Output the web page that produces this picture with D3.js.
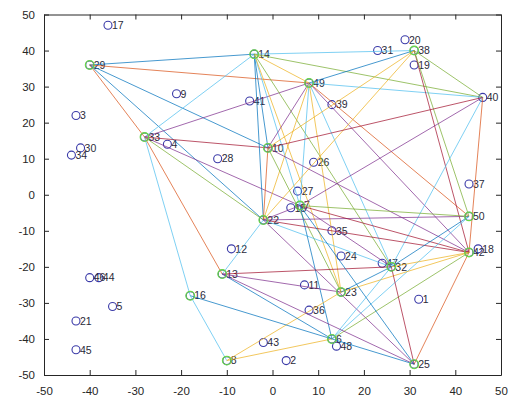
<!DOCTYPE html>
<html>
<head>
<meta charset="utf-8">
<script src="https://cdn.jsdelivr.net/npm/d3@7"></script>
<style>
  html, body { margin: 0; padding: 0; background: #fff; }
  svg { display: block; }
  text { font-family: "Liberation Sans", Arial, Helvetica, sans-serif; }
</style>
</head>
<body>
<svg id="chart" width="514" height="400"></svg>
<script>
// Sensor nodes: id, x, y, and whether the node is a cluster head (green ring)
const nodeIds = [1, 2, 3, 4, 5, 6, 7, 8, 9, 10,
                 11, 12, 13, 14, 15, 16, 17, 18, 19, 20,
                 21, 22, 23, 24, 25, 26, 27, 28, 29, 30,
                 31, 32, 33, 34, 35, 36, 37, 38, 39, 40,
                 41, 42, 43, 44, 45, 46, 47, 48, 49, 50];
const nodeX = [32, 3, -43, -23, -35, 13, 6, -10, -21, -1,
               7, -9, -11, -4, 4, -18, -36, 45, 31, 29,
               -43, -2, 15, 15, 31, 9, 5.5, -12, -40, -42,
               23, 26, -28, -44, 13, 8, 43, 31, 13, 46,
               -5, 43, -2, -38, -43, -40, 24, 14, 8, 43];
const nodeY = [-29, -46, 22, 14, -31, -40, -3, -46, 28, 13,
               -25, -15, -22, 39, -3.6, -28, 47, -15, 36, 43,
               -35, -7, -27, -17, -47, 9, 1, 10, 36, 13,
               40, -20, 16, 11, -10, -32, 3, 40, 25, 27,
               26, -16, -41, -23, -43, -23, -19, -42, 31, -6];
const headIds = [6, 7, 8, 10, 13, 14, 16, 22, 23, 25, 29, 32, 33, 38, 42, 49, 50];

// Links between nodes, and the line colour order entry each one was drawn with
const linkFrom  = [29, 29, 29, 29, 29, 33, 33, 33, 33, 33, 33, 33,
                   14, 14, 14, 14, 14, 14, 14, 14,
                   49, 49, 49, 49, 49, 49, 49, 49, 49,
                   38, 38, 38, 38, 38,
                   40, 40, 40, 40,
                   10, 10, 10,
                   22, 22, 22, 22, 22, 22,
                   7, 7, 7, 7,
                   50, 50, 42, 42, 42, 42,
                   32, 32, 32, 32,
                   23, 23, 6, 6, 6, 6, 13, 16, 25];
const linkTo    = [14, 49, 10, 22, 33, 14, 49, 10, 7, 22, 13, 16,
                   38, 40, 49, 22, 10, 7, 23, 32,
                   38, 40, 10, 22, 7, 23, 32, 42, 50,
                   40, 10, 22, 42, 50,
                   10, 7, 32, 42,
                   42, 22, 23,
                   50, 42, 32, 25, 13, 7,
                   50, 42, 32, 6,
                   32, 6, 32, 23, 25, 6,
                   13, 23, 25, 6,
                   13, 8, 16, 13, 8, 25, 25, 8, 7];
const linkGroup = [1, 2, 1, 1, 2, 6, 4, 7, 4, 5, 2, 6,
                   6, 5, 3, 1, 1, 6, 3, 5,
                   1, 6, 4, 3, 6, 3, 6, 4, 2,
                   5, 3, 3, 7, 5,
                   7, 4, 6, 2,
                   4, 2, 5,
                   4, 7, 6, 4, 6, 4,
                   5, 7, 4, 1,
                   1, 6, 3, 3, 2, 5,
                   7, 1, 7, 6,
                   4, 3, 1, 1, 3, 1, 4, 6, 1];

// Axis ticks
const xTicks = [-50, -40, -30, -20, -10, 0, 10, 20, 30, 40, 50];
const yTicks = [-50, -40, -30, -20, -10, 0, 10, 20, 30, 40, 50];

const lineColors = ["#0072BD", "#D95319", "#EDB120", "#7E2F8E", "#77AC30", "#4DBEEE", "#A2142F"];

(function draw() {
  const svg = d3.select("#chart");
  const pLeft = 44, pRight = 501, pTop = 14.5, pBottom = 375;

  const x = d3.scaleLinear().domain([-50, 50]).range([pLeft, pRight]);
  const y = d3.scaleLinear().domain([-50, 50]).range([pBottom, pTop]);
  const color = d3.scaleOrdinal().domain([1, 2, 3, 4, 5, 6, 7]).range(lineColors);

  const nodes = nodeIds.map((id, i) => ({ id, x: nodeX[i], y: nodeY[i] }));
  const byId = new Map(nodes.map(n => [n.id, n]));
  const links = linkFrom.map((f, i) => ({ a: byId.get(f), b: byId.get(linkTo[i]), g: linkGroup[i] }));

  // Node markers
  svg.append("g").selectAll("circle")
    .data(nodes)
    .join("circle")
    .attr("cx", d => x(d.x))
    .attr("cy", d => y(d.y))
    .attr("r", 4)
    .attr("fill", "none")
    .attr("stroke", "#3a3aa8")
    .attr("stroke-width", 1.1);

  // Node labels
  svg.append("g").selectAll("text")
    .data(nodes)
    .join("text")
    .attr("x", d => x(d.x) + 4)
    .attr("y", d => y(d.y))
    .attr("dy", "0.36em")
    .attr("font-size", 10.5)
    .attr("fill", "#2a2a3a")
    .text(d => d.id);

  // Links
  svg.append("g").selectAll("line")
    .data(links)
    .join("line")
    .attr("x1", d => x(d.a.x))
    .attr("y1", d => y(d.a.y))
    .attr("x2", d => x(d.b.x))
    .attr("y2", d => y(d.b.y))
    .attr("stroke", d => color(d.g))
    .attr("stroke-width", 1)
    .attr("stroke-opacity", 0.72);

  // Cluster head rings
  svg.append("g").selectAll("circle")
    .data(headIds.map(id => byId.get(id)))
    .join("circle")
    .attr("cx", d => x(d.x))
    .attr("cy", d => y(d.y))
    .attr("r", 4.3)
    .attr("fill", "none")
    .attr("stroke", "#6ad84a")
    .attr("stroke-width", 1.3);

  // Axes box with inward ticks on all four sides
  const fmt = d => String(d);
  const axisColor = "#262626";

  const gB = svg.append("g").attr("transform", `translate(0,${pBottom})`)
    .call(d3.axisBottom(x).tickValues(xTicks).tickFormat(fmt).tickSizeInner(-5).tickSizeOuter(0).tickPadding(12));
  const gL = svg.append("g").attr("transform", `translate(${pLeft},0)`)
    .call(d3.axisLeft(y).tickValues(yTicks).tickFormat(fmt).tickSizeInner(-5).tickSizeOuter(0).tickPadding(9));
  const gT = svg.append("g").attr("transform", `translate(0,${pTop})`)
    .call(d3.axisTop(x).tickValues(xTicks).tickFormat("").tickSizeInner(-5).tickSizeOuter(0));
  const gR = svg.append("g").attr("transform", `translate(${pRight},0)`)
    .call(d3.axisRight(y).tickValues(yTicks).tickFormat("").tickSizeInner(-5).tickSizeOuter(0));

  [gB, gL, gT, gR].forEach(g => {
    g.select(".domain").attr("stroke", axisColor);
    g.selectAll(".tick line").attr("stroke", axisColor);
    g.selectAll(".tick text")
      .attr("fill", axisColor)
      .attr("font-size", 11.5)
      .attr("font-family", "'Liberation Sans', Arial, Helvetica, sans-serif");
  });
})();
</script>
</body>
</html>
